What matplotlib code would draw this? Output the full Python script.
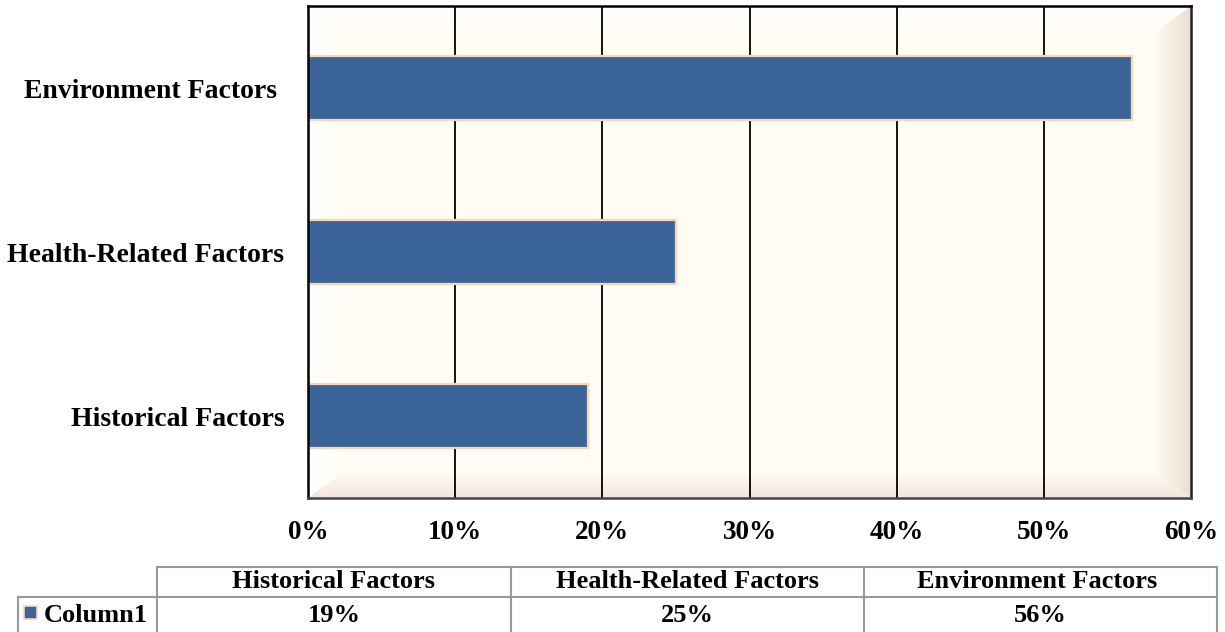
import numpy as np
import matplotlib
matplotlib.use("Agg")
import matplotlib.pyplot as plt
from matplotlib.patches import Rectangle, Polygon
from matplotlib.lines import Line2D

# ---- data ----
categories = ["Historical Factors", "Health-Related Factors", "Environment Factors "]
values = [0.19, 0.25, 0.56]
series_name = "Column1"
xticks = [0.0, 0.1, 0.2, 0.3, 0.4, 0.5, 0.6]
xtick_labels = ["0%", "10%", "20%", "30%", "40%", "50%", "60%"]

BAR_COLOR = "#3B6598"
BAR_EDGE = "#FCD5B4"
FONT = "Liberation Serif"

W, H = 1225, 632
fig = plt.figure(figsize=(W / 100, H / 100), dpi=100)
fig.patch.set_facecolor("white")

def fx(px):
    return px / W

def fy(py):
    return 1 - py / H

L, R, T, B = 308, 1191, 6, 498
ax = fig.add_axes([fx(L), fy(B), fx(R) - fx(L), fy(T) - fy(B)])
ax.set_facecolor("#FFFDF3")

# bevel background
bx, by = 38 / (R - L), 28 / (B - T)
def grad_patch(poly, c0, c1, horizontal, zorder=0.3):
    pts = np.array(poly)
    x0, x1 = pts[:, 0].min(), pts[:, 0].max()
    y0, y1 = pts[:, 1].min(), pts[:, 1].max()
    t = np.linspace(0, 1, 64)
    c0 = np.array(matplotlib.colors.to_rgb(c0))
    c1 = np.array(matplotlib.colors.to_rgb(c1))
    if horizontal:
        arr = (c0[None, :] * (1 - t[:, None]) + c1[None, :] * t[:, None])[None, :, :]
        arr = np.repeat(arr, 2, axis=0)
    else:
        arr = (c0[None, :] * (1 - t[:, None]) + c1[None, :] * t[:, None])[:, None, :]
        arr = np.repeat(arr, 2, axis=1)
    patch = Polygon(poly, closed=True, transform=ax.transAxes, facecolor="none", edgecolor="none")
    ax.add_patch(patch)
    im = ax.imshow(arr, extent=[x0, x1, y0, y1], transform=ax.transAxes,
                   aspect="auto", origin="lower", zorder=zorder, interpolation="bilinear")
    im.set_clip_path(patch)

# top (white -> cream going down)
grad_patch([(0, 1), (1, 1), (1 - bx, 1 - by), (bx, 1 - by)], "#FFFDF3", "#FFFFFF", False)
# left
grad_patch([(0, 0), (bx, by), (bx, 1 - by), (0, 1)], "#FFFFFF", "#FFFDF3", True)
# right
grad_patch([(1, 0), (1, 1), (1 - bx, 1 - by), (1 - bx, by)], "#FFFDF3", "#EEDDD2", True)
# bottom
grad_patch([(0, 0), (1, 0), (1 - bx, by), (bx, by)], "#F3E6DC", "#FFFDF3", False)

ypos = np.arange(len(categories))
ax.barh(ypos, values, height=0.39, color=BAR_COLOR, edgecolor=BAR_EDGE,
        linewidth=1.6, zorder=3)

ax.set_xlim(0, 0.6)
ax.set_ylim(-0.5, len(categories) - 0.5)
ax.set_xticks(xticks)
ax.set_xticklabels(xtick_labels)
ax.set_yticks(ypos)
ax.set_yticklabels(categories)
ax.tick_params(length=0, pad=0)
for lab in ax.get_xticklabels():
    lab.set_fontfamily(FONT)
    lab.set_fontweight("bold")
    lab.set_fontsize(19.5)
for lab in ax.get_yticklabels():
    lab.set_fontfamily(FONT)
    lab.set_fontweight("bold")
    lab.set_fontsize(20)
ax.tick_params(axis="x", pad=16)
ax.tick_params(axis="y", pad=17)

for xv in xticks[1:-1]:
    ax.axvline(xv, color="black", lw=1.3, zorder=1)

ax.spines["left"].set_linewidth(1.8)
ax.spines["left"].set_color("black")
ax.spines["top"].set_linewidth(1.8)
ax.spines["top"].set_color("black")
ax.spines["right"].set_linewidth(1.8)
ax.spines["right"].set_color("#222222")
ax.spines["bottom"].set_linewidth(1.8)
ax.spines["bottom"].set_color("#444444")
for s in ax.spines.values():
    s.set_zorder(5)

# ---- data table ----
col_edges = [157, 511, 864, 1217]
row_edges = [567, 597, 640]
label_left = 18
gray = "#999999"
lw = 1.5

def hline(x0, x1, y):
    fig.add_artist(Line2D([fx(x0), fx(x1)], [fy(y), fy(y)], color=gray, lw=lw))

def vline(x, y0, y1):
    fig.add_artist(Line2D([fx(x), fx(x)], [fy(y0), fy(y1)], color=gray, lw=lw))

hline(col_edges[0], col_edges[-1], row_edges[0])
hline(label_left, col_edges[-1], row_edges[1])
for x in col_edges:
    vline(x, row_edges[0], row_edges[2])
vline(label_left, row_edges[1], row_edges[2])

tkw = dict(fontfamily=FONT, fontweight="bold", fontsize=19)
for i, cat in enumerate(categories):
    cx = (col_edges[i] + col_edges[i + 1]) / 2
    fig.text(fx(cx), fy((row_edges[0] + row_edges[1]) / 2), cat,
             ha="center", va="center", **tkw)
    fig.text(fx(cx), fy(615), f"{round(values[i] * 100):d}%",
             ha="center", va="center", **tkw)

fig.add_artist(Rectangle((fx(24), fy(619)), fx(13), fy(606) - fy(619),
                         facecolor=BAR_COLOR, edgecolor=BAR_EDGE, lw=1.2,
                         transform=fig.transFigure))
fig.text(fx(44), fy(615), series_name, ha="left", va="center", **tkw)

fig.savefig("out.png", dpi=100)
